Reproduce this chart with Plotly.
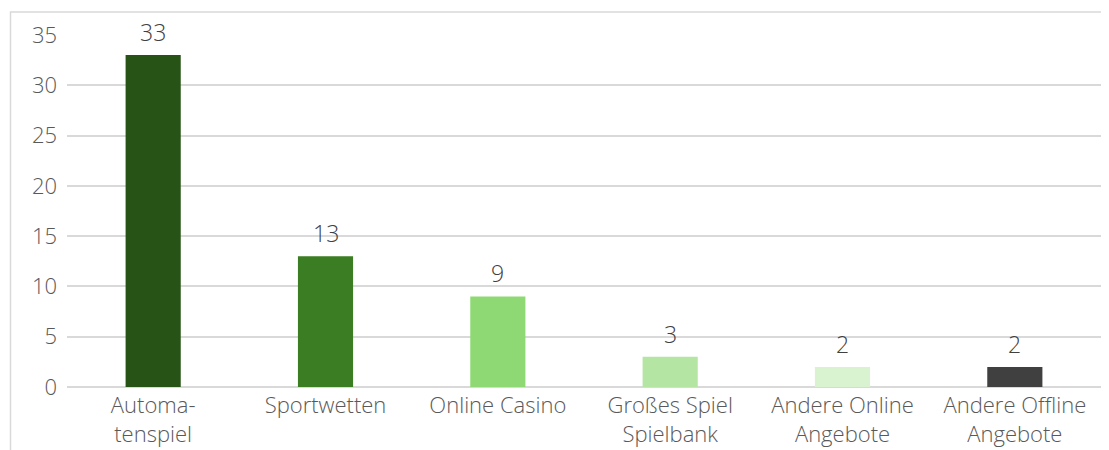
import plotly.graph_objects as go

categories = ["Automa-<br>tenspiel", "Sportwetten", "Online Casino",
              "Großes Spiel<br>Spielbank", "Andere Online<br>Angebote", "Andere Offline<br>Angebote"]
values = [33, 13, 9, 3, 2, 2]
colors = ["#275317", "#3A7D22", "#8ED973", "#B4E5A2", "#D9F2D0", "#404040"]
y_ticks = [0, 5, 10, 15, 20, 25, 30, 35]

FONT = "Open Sans"
OFF = 8  # page body offset

fig = go.Figure(go.Bar(
    x=categories, y=values, marker=dict(color=colors, line=dict(width=0)),
    hoverinfo="skip",
))

for c, v in zip(categories, values):
    fig.add_annotation(x=c, y=v, text=str(v), showarrow=False, yanchor="bottom",
                       yshift=5, font=dict(family=FONT, size=23, color="#404040", weight=300))

# target plot area in page pixels
PL, PR, PT, PB = 67, 1101, 35, 387
W, H = 1109 - OFF, 450 - OFF
L, T = PL - OFF, PT - OFF
R = W - (PR - OFF)
B = H - (PB - OFF)
pw, ph = PR - PL, PB - PT
fig.add_shape(type="rect", xref="paper", yref="paper",
              x0=(10.5 - PL) / pw, x1=(1108.5 - PL) / pw,
              y0=(PB - 470) / ph, y1=(PB - 12) / ph,
              line=dict(color="#d9d9d9", width=1.5), layer="below")

fig.update_layout(
    width=W, height=H,
    margin=dict(l=L, r=R, t=T, b=B, autoexpand=False),
    paper_bgcolor="white", plot_bgcolor="white",
    bargap=0.68,
    showlegend=False,
    font=dict(family=FONT, size=22, color="#595959", weight=300),
    xaxis=dict(showgrid=False, showline=False, ticks="", ticklabelstandoff=3,
               tickfont=dict(size=22, color="#595959", weight=300)),
    yaxis=dict(range=[0, 35], tickvals=y_ticks, showgrid=True, gridcolor="#d9d9d9", gridwidth=1.5,
               zeroline=True, zerolinecolor="#d9d9d9", zerolinewidth=1.5, showline=False,
               ticks="", ticklabelstandoff=9, tickfont=dict(size=22, color="#595959", weight=300)),
)

fig.write_html("out.html")
